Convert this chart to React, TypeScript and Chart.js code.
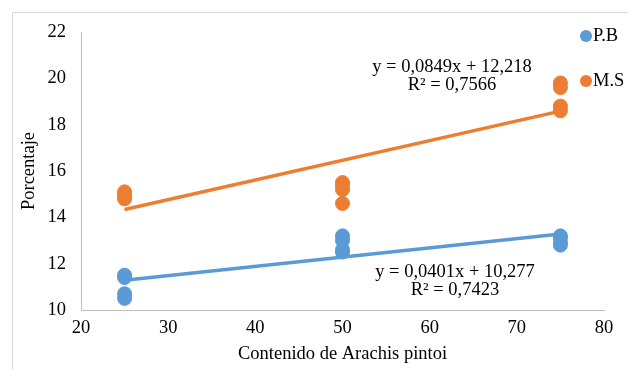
import React, { useEffect, useRef } from "react";
import { Chart, registerables } from "chart.js";

Chart.register(...registerables);

const seriesNames = ["P.B", "M.S"];
const seriesColors = ["#5B9BD5", "#ED7D31"];

const xLevels = [25, 25, 25, 25, 50, 50, 50, 50, 75, 75, 75, 75];
const pbValues = [11.5, 11.4, 10.7, 10.5, 13.2, 13.0, 12.6, 12.5, 13.2, 13.1, 12.9, 12.8];
const msValues = [15.1, 15.0, 14.9, 14.8, 15.5, 15.4, 15.2, 14.6, 19.8, 19.6, 18.8, 18.6];

const trendSlopes = [0.0401, 0.0849];
const trendIntercepts = [10.277, 12.218];
const trendEquations = ["y = 0,0401x + 10,277", "y = 0,0849x + 12,218"];
const trendR2 = ["R² = 0,7423", "R² = 0,7566"];
const trendRange = [25, 75];

const xTicks = [20, 30, 40, 50, 60, 70, 80];
const yTicks = [10, 12, 14, 16, 18, 20, 22];

const xTitle = "Contenido de Arachis pintoi";
const yTitle = "Porcentaje";

const FONT = '"Liberation Serif", "Times New Roman", serif';
const FS = 18.5;

export default function App() {
  const ref = useRef<HTMLCanvasElement | null>(null);

  useEffect(() => {
    document.body.style.margin = "0";
    const canvas = ref.current;
    if (!canvas) return;

    const toPoints = (vals: number[]) => vals.map((v, i) => ({ x: xLevels[i], y: v }));
    const trend = (k: number) =>
      trendRange.map((x) => ({ x, y: trendSlopes[k] * x + trendIntercepts[k] }));

    const overlay = {
      id: "overlay",
      afterDraw(chart: any) {
        const ctx = chart.ctx;
        ctx.save();
        // outer frame
        ctx.strokeStyle = "#d9d9d9";
        ctx.lineWidth = 1;
        ctx.beginPath();
        ctx.moveTo(12.5, 400);
        ctx.lineTo(12.5, 12.5);
        ctx.lineTo(700, 12.5);
        ctx.stroke();

        // legend
        const legendY = [36, 81];
        ctx.font = FS + "px " + FONT;
        ctx.textBaseline = "alphabetic";
        ctx.textAlign = "left";
        seriesNames.forEach((n, i) => {
          ctx.fillStyle = seriesColors[i];
          ctx.beginPath();
          ctx.arc(586, legendY[i], 6, 0, Math.PI * 2);
          ctx.fill();
          ctx.fillStyle = "#000";
          ctx.fillText(n, 593, legendY[i] + 5);
        });

        // trendline equations
        ctx.textAlign = "center";
        const labelPos = [
          { x: 455, y: 277 },
          { x: 452, y: 72 },
        ];
        labelPos.forEach((p, k) => {
          ctx.fillText(trendEquations[k], p.x, p.y);
          ctx.fillText(trendR2[k], p.x, p.y + 17.5);
        });
        ctx.restore();
      },
    };

    const chart = new Chart(canvas, {
      type: "scatter",
      data: {
        datasets: [
          {
            type: "line",
            label: "trend P.B",
            data: trend(0),
            borderColor: seriesColors[0],
            borderWidth: 3.5,
            pointRadius: 0,
            order: 0,
          },
          {
            type: "line",
            label: "trend M.S",
            data: trend(1),
            borderColor: seriesColors[1],
            borderWidth: 3.5,
            pointRadius: 0,
            order: 0,
          },
          {
            label: seriesNames[0],
            data: toPoints(pbValues),
            backgroundColor: seriesColors[0],
            borderColor: seriesColors[0],
            pointRadius: 7,
            order: 1,
          },
          {
            label: seriesNames[1],
            data: toPoints(msValues),
            backgroundColor: seriesColors[1],
            borderColor: seriesColors[1],
            pointRadius: 7,
            order: 1,
          },
        ],
      } as any,
      options: {
        animation: false,
        responsive: false,
        layout: { padding: { left: 0, top: 32, right: 24, bottom: 0 } },
        plugins: {
          legend: { display: false },
          tooltip: { enabled: false },
        },
        scales: {
          x: {
            type: "linear",
            min: xTicks[0],
            max: xTicks[xTicks.length - 1],
            afterBuildTicks: (s: any) => {
              s.ticks = xTicks.map((v) => ({ value: v }));
            },
            afterFit: (s: any) => {
              s.height = 60;
            },
            grid: { display: false, drawTicks: false },
            border: { display: true, color: "#bfbfbf", width: 1 },
            ticks: { color: "#000", font: { family: FONT, size: FS }, padding: 7, maxRotation: 0 },
            title: {
              display: true,
              text: xTitle,
              color: "#000",
              font: { family: FONT, size: FS },
              padding: { top: 0, bottom: 5 },
            },
          },
          y: {
            type: "linear",
            min: yTicks[0],
            max: yTicks[yTicks.length - 1],
            afterBuildTicks: (s: any) => {
              s.ticks = yTicks.map((v) => ({ value: v }));
            },
            afterFit: (s: any) => {
              s.width = 81;
            },
            grid: { display: false, drawTicks: false },
            border: { display: true, color: "#bfbfbf", width: 1 },
            ticks: { color: "#000", font: { family: FONT, size: FS }, padding: 15 },
            title: {
              display: true,
              text: yTitle,
              color: "#000",
              font: { family: FONT, size: FS },
              padding: { top: 18, bottom: 0 },
            },
          },
        },
      },
      plugins: [overlay],
    });

    return () => chart.destroy();
  }, []);

  return (
    <div style={{ width: 628, height: 370 }}>
      <canvas ref={ref} width={628} height={370} style={{ display: "block" }} />
    </div>
  );
}
